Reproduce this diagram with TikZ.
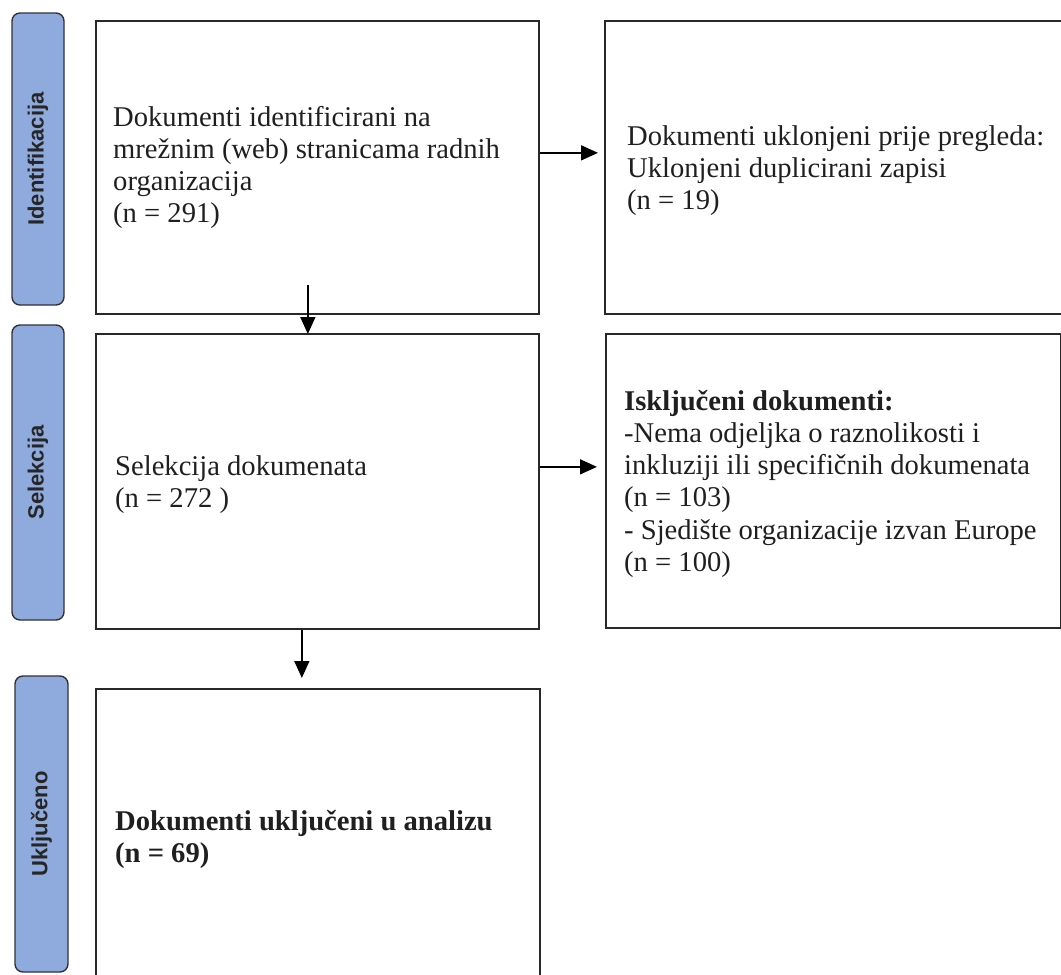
\documentclass[tikz,border=0pt]{standalone}
\usepackage{fontspec}
\setmainfont{Liberation Serif}
\setsansfont{Liberation Sans}
\usetikzlibrary{arrows.meta,calc}
\definecolor{stageblue}{RGB}{143,170,220}
\definecolor{stageedge}{RGB}{50,50,55}
\definecolor{boxedge}{RGB}{40,40,40}
\begin{document}
\begin{tikzpicture}[x=1pt,y=-1pt,
  box/.style={draw=boxedge,line width=1.7pt,rectangle,inner sep=0pt,anchor=north west},
  stage/.style={draw=stageedge,fill=stageblue,line width=1.4pt,rounded corners=8pt,rectangle,
    rotate=90,inner sep=0pt,font=\sffamily\bfseries\fontsize{22}{26}\selectfont,text=black!85},
  txt/.style={align=left,inner sep=0pt,anchor=west,font=\fontsize{28.6}{32.2}\selectfont,text=black!88},
  arr/.style={-{Triangle[length=17pt,width=15pt]},line width=1.5pt,draw=black}]
\useasboundingbox (0,0) rectangle (1061,975);
\clip (0,0) rectangle (1061,975);

% stage labels
\node[stage,minimum width=292pt,minimum height=52pt] (S1) at (38,159) {Identifikacija};
\node[stage,minimum width=295pt,minimum height=52pt] (S2) at (38,472.5) {Selekcija};
\node[stage,minimum width=296pt,minimum height=53pt] (S3) at (41.5,824) {Uključeno};

% boxes
\node[box,minimum width=443pt,minimum height=293pt] (A) at (95,20) {};
\node[box,minimum width=470pt,minimum height=293pt] (B) at (604,20) {};
\node[box,minimum width=443pt,minimum height=295pt] (C) at (95,333) {};
\node[box,minimum width=455pt,minimum height=294pt] (D) at (605,333) {};
\node[box,minimum width=444pt,minimum height=302pt] (E) at (95,688) {};

% texts
\node[txt] (At) at ([xshift=18pt]A.west) {Dokumenti identificirani na\\mrežnim (web) stranicama radnih\\organizacija\\(n = 291)};
\node[txt] (Bt) at ([xshift=23pt,yshift=-3pt]B.west) {Dokumenti uklonjeni prije pregleda:\\Uklonjeni duplicirani zapisi\\(n = 19)};
\node[txt] (Ct) at ([xshift=20pt,yshift=-3pt]C.west) {Selekcija dokumenata\\(n = 272 )};
\node[txt] (Dt) at ([xshift=19pt,yshift=-3pt]D.west) {\textbf{Isključeni dokumenti:}\\-Nema odjeljka o raznolikosti i\\inkluziji ili specifičnih dokumenata\\(n = 103)\\- Sjedište organizacije izvan Europe\\(n = 100)};
\node[txt] (Et) at ([xshift=20pt]E.west) {\textbf{Dokumenti uključeni u analizu}\\\textbf{(n = 69)}};

% connectors
\draw[arr,shorten >=6pt] ([yshift=14.5pt]A.east) -- ([yshift=14.5pt]A.east -| B.west);
\draw[arr,shorten >=8pt] ([yshift=14.5pt]C.east) -- ([yshift=14.5pt]C.east -| D.west);
\draw[arr,shorten >=-1pt] ([xshift=-9.5pt,yshift=30pt]A.south) -- ([xshift=-9.5pt]A.south |- C.north);
\draw[arr,shorten >=10pt] ([xshift=-15.5pt]C.south) -- ([xshift=-15.5pt]C.south |- E.north);
\end{tikzpicture}
\end{document}
